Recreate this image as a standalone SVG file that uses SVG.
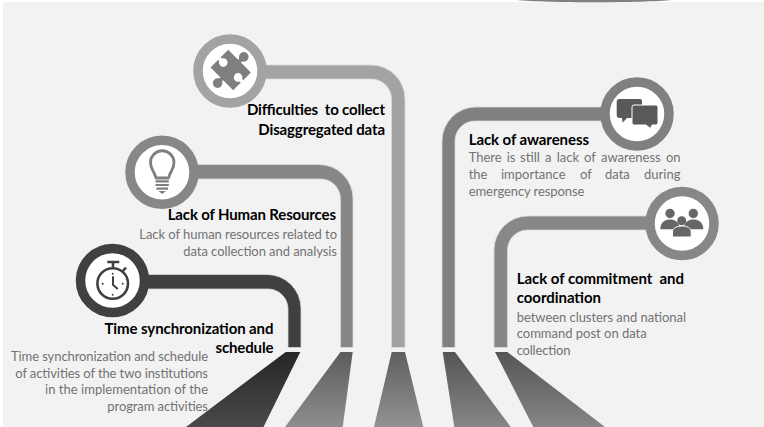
<svg xmlns="http://www.w3.org/2000/svg" width="764" height="427" viewBox="0 0 764 427">
<style>
text{font-family:Lato,"Open Sans","Liberation Sans",sans-serif}
.h{font-size:15px;font-weight:700;fill:#000}
.d{font-size:13px;fill:#727272}
.e{text-anchor:end}
.ring{fill:#fff;stroke-width:9.500}
.band{stroke:#d9d9d9;stroke-width:.8}
</style>
<defs>
<linearGradient id="f1" x1="0" y1="0" x2="0" y2="1"><stop offset="0" stop-color="#262626"/><stop offset="1" stop-color="#4a4a4a"/></linearGradient>
<linearGradient id="f2" x1="0" y1="0" x2="0" y2="1"><stop offset="0" stop-color="#5c5c5c"/><stop offset="1" stop-color="#8e8e8e"/></linearGradient>
<linearGradient id="f3" x1="0" y1="0" x2="0" y2="1"><stop offset="0" stop-color="#5f5f5f"/><stop offset="1" stop-color="#929292"/></linearGradient>
<linearGradient id="f4" x1="0" y1="0" x2="0" y2="1"><stop offset="0" stop-color="#555"/><stop offset="1" stop-color="#868686"/></linearGradient>
</defs>
<rect x="3" y="2" width="761" height="425" fill="#f2f2f2"/>
<path d="M517 0C545 3 645 3 672 0Z" fill="#7f7f7f"/>
<g id="connectors">
<path class="band" fill="#404040" d="M147 274.500H267A34 34 0 0 1 301 308.500V347.500H288V308.500A20 20 0 0 0 268 289H147Z"/>
<path class="band" fill="#878787" d="M196 164.500H319A34 34 0 0 1 353 198.500V347.500H340.500V198.500A20 20 0 0 0 320 179H196Z"/>
<path class="band" fill="#a3a3a3" d="M265 65H371A34 34 0 0 1 405 99V347.500H391.500V99A20 20 0 0 0 371 79H265Z"/>
<path class="band" fill="#808080" d="M604 107H476A34 34 0 0 0 442 141V347.500H455V141A20 20 0 0 1 476 121H604Z"/>
<path class="band" fill="#878787" d="M652 216H528A34 34 0 0 0 494 250V347.500H507.500V250A20 20 0 0 1 528 230H652Z"/>
<polygon fill="url(#f1)" points="285.700,352 300.300,352 263.500,427 186,427"/>
<polygon fill="url(#f2)" points="340.500,352 352.700,352 342.700,427 285,427"/>
<polygon fill="url(#f3)" points="391.700,352 405,352 423.300,427 374,427"/>
<polygon fill="url(#f4)" points="442.700,352 455,352 510.700,427 454.300,427"/>
<polygon fill="url(#f4)" points="495,352 507.300,352 605,427 533.300,427"/>
</g>
<g id="node-time">
<circle class="ring" cx="112.500" cy="280.500" r="32" stroke="#404040"/>
<g fill="none" stroke="#404040" stroke-width="2.600">
<circle cx="112.700" cy="283.500" r="15.300"/>
<path d="M107.300 262H119.300M113 262V267.500M122.500 271.500L126 267.500"/>
<path d="M113 276.300V284.700L117.700 289" stroke-width="2"/>
</g>
<g fill="#404040"><circle cx="112.700" cy="273.700" r="1"/><circle cx="112.700" cy="294.700" r="1"/><circle cx="102.700" cy="283.700" r="1"/><circle cx="122.700" cy="283.700" r="1"/></g>
<text class="h e" x="273.500" y="334" textLength="169">Time synchronization and</text>
<text class="h e" x="273.500" y="353" textLength="58">schedule</text>
<text class="d e" x="208" y="361" textLength="197">Time synchronization and schedule</text>
<text class="d e" x="208" y="377.500" textLength="192.700">of activities of the two institutions</text>
<text class="d e" x="208" y="394" textLength="163">in the implementation of the</text>
<text class="d e" x="208" y="410.500" textLength="100.700">program activities</text>
</g>
<g id="node-human">
<circle class="ring" cx="162" cy="172.300" r="32" stroke="#878787"/>
<path d="M156 178C154.500 171 150.500 170 150.500 162.500A11.700 11.700 0 0 1 174 162.500C174 170 170 171 168.500 178Z" fill="none" stroke="#7f7f7f" stroke-width="2.800" stroke-linejoin="round"/>
<path d="M155.500 181.300H168.800M155.500 185H168.800M156.500 188.700H168" stroke="#7f7f7f" stroke-width="2.200" fill="none"/>
<path d="M158.500 191H166L162.200 194Z" fill="#7f7f7f"/>
<text class="h e" x="336" y="220" textLength="168.300">Lack of Human Resources</text>
<text class="d e" x="337" y="239" textLength="197.700">Lack of human resources related to</text>
<text class="d e" x="337" y="255.500" textLength="153.700">data collection and analysis</text>
</g>
<g id="node-puzzle">
<circle class="ring" cx="230" cy="71" r="32" stroke="#a3a3a3"/>
<g transform="translate(230.700 70) rotate(45)">
<rect x="-16" y="-12.500" width="32" height="25" fill="#7f7f7f"/>
<rect x="-2" y="-16" width="4" height="32" fill="#7f7f7f"/>
<circle cx="0" cy="-18.500" r="4.800" fill="#7f7f7f"/><circle cx="0" cy="18.500" r="4.800" fill="#7f7f7f"/>
<rect x="-16.500" y="-1.800" width="6" height="3.600" fill="#fff"/><rect x="10.500" y="-1.800" width="6" height="3.600" fill="#fff"/>
<circle cx="-10.500" cy="0" r="4.300" fill="#fff"/><circle cx="10.500" cy="0" r="4.300" fill="#fff"/>
</g>
<text class="h e" x="385" y="115" textLength="138" xml:space="preserve">Difficulties  to collect</text>
<text class="h e" x="385" y="134.500" textLength="126.700">Disaggregated data</text>
</g>
<g id="node-awareness">
<circle class="ring" cx="637" cy="114" r="32" stroke="#808080"/>
<path d="M619 99H640A2 2 0 0 1 642 101V118H627L622.500 122.700L622 118H619A2.500 2.500 0 0 1 616.700 115.500V101.500A2.500 2.500 0 0 1 619 99Z" fill="#595959"/>
<path d="M634 105H656A2 2 0 0 1 658 107V123A2 2 0 0 1 656 125H652L650.500 128.500L646 125H634A2 2 0 0 1 632 123V107A2 2 0 0 1 634 105Z" fill="#595959" stroke="#fff" stroke-width="1"/>
<text class="h" x="468.700" y="145" textLength="120.300">Lack of awareness</text>
<text class="d" y="162.300"><tspan x="468.700">There</tspan><tspan x="506.700">is</tspan><tspan x="520">still</tspan><tspan x="545">a</tspan><tspan x="556.700">lack</tspan><tspan x="584">of</tspan><tspan x="601">awareness</tspan><tspan x="666">on</tspan></text>
<text class="d" y="179"><tspan x="468.700">the</tspan><tspan x="501">importance</tspan><tspan x="580">of</tspan><tspan x="605">data</tspan><tspan x="644">during</tspan></text>
<text class="d" x="468.700" y="195.800" textLength="115.700">emergency response</text>
</g>
<g id="node-commitment">
<circle class="ring" cx="682" cy="223.500" r="32" stroke="#878787"/>
<g fill="#666"><circle cx="670" cy="213.500" r="4.700"/><circle cx="693.300" cy="213.500" r="4.700"/><circle cx="681.700" cy="220.700" r="4.500"/>
<path d="M660.300 229.300C660.300 222 665 219.500 670 219.500C675 219.500 679.700 222 679.700 229.300Z"/><path d="M683.700 229.300C683.700 222 688.500 219.500 693.300 219.500C698.500 219.500 703.300 222 703.300 229.300Z"/>
<path d="M672.500 237V232C672.500 228 677 226 682 226C687 226 691.200 228 691.200 232V237Z" stroke="#fff" stroke-width="1"/></g>
<text class="h" x="516.700" y="284" textLength="167.300" xml:space="preserve">Lack of commitment  and</text>
<text class="h" x="516.700" y="303" textLength="84.300">coordination</text>
<text class="d" x="516.700" y="321.700" textLength="169.300">between clusters and national</text>
<text class="d" x="516.700" y="338.300" textLength="130">command post on data</text>
<text class="d" x="516.700" y="355" textLength="53.700">collection</text>
</g>
</svg>
